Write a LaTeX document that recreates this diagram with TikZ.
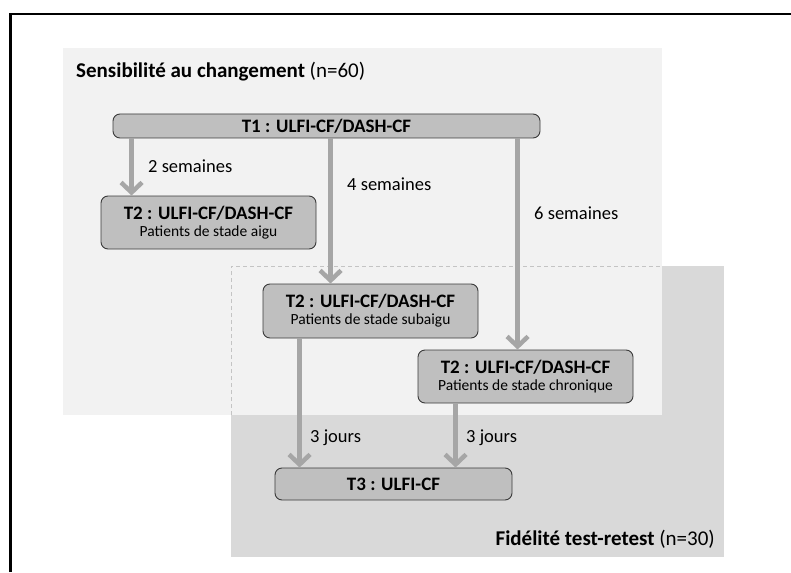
\documentclass[tikz,border=0pt]{standalone}
\usepackage{fontspec}
\setmainfont{Carlito}
\usepackage{tikz}
\usetikzlibrary{arrows.meta}

\definecolor{zonesens}{HTML}{F2F2F2}
\definecolor{zonefid}{HTML}{D9D9D9}
\definecolor{boxfill}{HTML}{BFBFBF}
\definecolor{boxline}{HTML}{3A3A3A}
\definecolor{arrgray}{HTML}{A6A6A6}
\definecolor{dashgray}{HTML}{C4C4C4}

\tikzset{
  box/.style={draw=boxline, fill=boxfill, rounded corners=7pt, line width=0.9pt,
    inner sep=0pt, align=center, font=\fontsize{19}{19}\selectfont},
  arr/.style={draw=arrgray, line width=4.5pt, -{Straight Barb[length=10pt,width=21pt]}},
  lbl/.style={anchor=west, inner sep=0pt, font=\fontsize{18.5}{20}\selectfont},
  title/.style={anchor=west, inner sep=0pt, font=\fontsize{21}{23}\selectfont},
}
\newcommand{\sub}[1]{\\[-2pt]{\fontsize{15.5}{15.5}\selectfont #1}}

\begin{document}
\begin{tikzpicture}[x=1pt, y=-1pt]
\useasboundingbox (0,0) rectangle (791,572);

\fill[zonefid] (231,266) rectangle (724,557);
\fill[zonesens] (63,48) rectangle (662,415);
\draw[dashgray, line width=0.8pt, dash pattern=on 4pt off 3pt] (231,415) -- (231,266) -- (662,266);
\draw[line width=2.5pt] (10.5,572) -- (10.5,14) -- (791,14);

\node[title] (S) at (76,72) {\textbf{Sensibilité au changement} (n=60)};
\node[title, anchor=east] (F) at (715,539) {\textbf{Fidélité test-retest} (n=30)};

\node[box, minimum width=427pt, minimum height=24pt] (T1) at (326.5,126) {\textbf{T1 : ULFI-CF/DASH-CF}};
\node[box, minimum width=215pt, minimum height=53pt] (aigu) at (208.5,222.5) {\textbf{T2 : ULFI-CF/DASH-CF}\sub{Patients de stade aigu}};
\node[box, minimum width=215pt, minimum height=54pt] (subaigu) at (370.5,311) {\textbf{T2 : ULFI-CF/DASH-CF}\sub{Patients de stade subaigu}};
\node[box, minimum width=215pt, minimum height=53pt] (chron) at (525.5,376.5) {\textbf{T2 : ULFI-CF/DASH-CF}\sub{Patients de stade chronique}};
\node[box, minimum width=237pt, minimum height=32pt] (T3) at (393.5,484) {\textbf{T3 : ULFI-CF}};

\coordinate (a1) at ([xshift=31pt]aigu.north west);
\coordinate (a2) at ([xshift=68pt]subaigu.north west);
\coordinate (a3) at ([xshift=100pt]chron.north west);
\coordinate (b1) at ([xshift=37pt]subaigu.south west);
\coordinate (b2) at ([xshift=38pt]chron.south west);

\draw[arr] (T1.south -| a1) -- (a1);
\draw[arr] (T1.south -| a2) -- (a2);
\draw[arr] (T1.south -| a3) -- (a3);
\draw[arr] (b1) -- (T3.north -| b1);
\draw[arr] (b2) -- (T3.north -| b2);

\node[lbl] (l1) at (148,166) {2 semaines};
\node[lbl] (l2) at (347,184) {4 semaines};
\node[lbl] (l3) at (534,213) {6 semaines};
\node[lbl] (l4) at (310,438) {3 jours};
\node[lbl] (l5) at (466,438) {3 jours};
\end{tikzpicture}
\end{document}
